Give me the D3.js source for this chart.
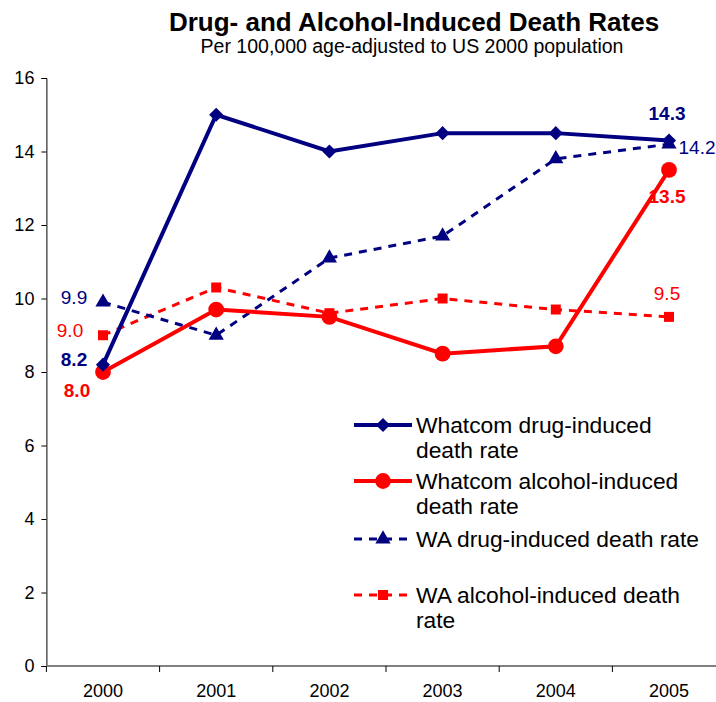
<!DOCTYPE html>
<html>
<head>
<meta charset="utf-8">
<script src="https://cdn.jsdelivr.net/npm/d3@7"></script>
<style>
  body { margin: 0; background: #fff; }
  svg { display: block; font-family: Arial, "Liberation Sans", sans-serif; }
</style>
</head>
<body>
<svg id="chart" width="716" height="702"></svg>
<script>
// Years on the x axis
const years = ["2000", "2001", "2002", "2003", "2004", "2005"];
// Rates per 100,000, age-adjusted
const whatcomDrug = [8.2, 15.0, 14.0, 14.5, 14.5, 14.3];
const whatcomAlcohol = [8.0, 9.7, 9.5, 8.5, 8.7, 13.5];
const waDrug = [9.9, 9.0, 11.1, 11.7, 13.8, 14.2];
const waAlcohol = [9.0, 10.3, 9.6, 10.0, 9.7, 9.5];
const yTicks = [0, 2, 4, 6, 8, 10, 12, 14, 16];

const svg = d3.select("#chart");
const left = 46.4, bandW = 113.2;
const x = d3.scaleBand().domain(years).range([left, left + bandW * years.length]);
const y = d3.scaleLinear().domain([0, 16]).range([666, 78]);
const cx = d => x(d) + x.bandwidth() / 2;

// Titles
svg.append("text").attr("x", 414).attr("y", 31).attr("text-anchor", "middle")
  .attr("font-size", 26).attr("font-weight", "bold").text("Drug- and Alcohol-Induced Death Rates");
svg.append("text").attr("x", 412).attr("y", 53).attr("text-anchor", "middle")
  .attr("font-size", 19.5).text("Per 100,000 age-adjusted to US 2000 population");

// Y axis
const yAxis = svg.append("g").attr("transform", `translate(${left},0)`)
  .call(d3.axisLeft(y).tickValues(yTicks).tickSize(5).tickPadding(7));
yAxis.select(".domain").attr("stroke", "#000").attr("stroke-width", 1);
yAxis.selectAll(".tick line").attr("stroke", "#000");
yAxis.selectAll("text").attr("font-size", 18).attr("fill", "#000")
  .attr("font-family", "Arial, 'Liberation Sans', sans-serif");

// X axis with ticks between categories
const xAxis = svg.append("g").attr("transform", `translate(0,${y(0)})`);
xAxis.append("line").attr("x1", left).attr("x2", left + bandW * years.length)
  .attr("stroke", "#808080").attr("stroke-width", 2);
xAxis.selectAll("line.tick").data(d3.range(years.length + 1)).join("line")
  .attr("class", "tick")
  .attr("x1", i => left + i * bandW).attr("x2", i => left + i * bandW)
  .attr("y1", 0).attr("y2", 6).attr("stroke", "#000").attr("stroke-width", 1);
xAxis.selectAll("text").data(years).join("text")
  .attr("x", d => cx(d)).attr("y", 31).attr("text-anchor", "middle")
  .attr("font-size", 18).text(d => d);

const navy = "#000080", red = "#ff0000";
const dash = "8,7";
const series = [
  { values: waAlcohol, color: red, width: 3, dash: dash, marker: "square" },
  { values: waDrug, color: navy, width: 3, dash: dash, marker: "triangle" },
  { values: whatcomAlcohol, color: red, width: 4, dash: null, marker: "circle" },
  { values: whatcomDrug, color: navy, width: 4, dash: null, marker: "diamond" }
];
const markerPath = {
  square: d3.symbol(d3.symbolSquare, 100)(),
  triangle: d3.symbol(d3.symbolTriangle, 100)(),
  circle: d3.symbol(d3.symbolCircle, 195)(),
  diamond: d3.symbol(d3.symbolSquare, 100)()
};
const markerRotate = { diamond: 45 };

const line = d3.line().x((v, i) => cx(years[i])).y(v => y(v));
series.forEach(s => {
  svg.append("path").datum(s.values).attr("d", line)
    .attr("fill", "none").attr("stroke", s.color).attr("stroke-width", s.width)
    .attr("stroke-dasharray", s.dash);
  svg.append("g").selectAll("path").data(s.values).join("path")
    .attr("d", markerPath[s.marker])
    .attr("transform", (v, i) => `translate(${cx(years[i])},${y(v)}) rotate(${markerRotate[s.marker] || 0})`)
    .attr("fill", s.color);
});

// Value labels at the first and last years (offsets are to the text baseline)
const labels = [
  { v: whatcomDrug[0], yr: 0, dx: -29, dy: 1.5, color: navy, bold: true },
  { v: whatcomAlcohol[0], yr: 0, dx: -26, dy: 25, color: red, bold: true },
  { v: waDrug[0], yr: 0, dx: -29, dy: 2, color: navy, bold: false },
  { v: waAlcohol[0], yr: 0, dx: -33, dy: 2, color: red, bold: false },
  { v: whatcomDrug[5], yr: 5, dx: -2, dy: -20, color: navy, bold: true },
  { v: waDrug[5], yr: 5, dx: 28, dy: 10, color: navy, bold: false },
  { v: whatcomAlcohol[5], yr: 5, dx: -2, dy: 33, color: red, bold: true },
  { v: waAlcohol[5], yr: 5, dx: -2, dy: -17, color: red, bold: false }
];
labels.forEach(l => {
  svg.append("text").attr("x", cx(years[l.yr]) + l.dx).attr("y", y(l.v) + l.dy)
    .attr("text-anchor", "middle").attr("font-size", 19)
    .attr("font-weight", l.bold ? "bold" : "normal").attr("fill", l.color)
    .text(l.v.toFixed(1));
});

// Legend
const legend = [
  { lines: ["Whatcom drug-induced", "death rate"], color: navy, width: 4, dash: null, marker: "diamond", y: 425 },
  { lines: ["Whatcom alcohol-induced", "death rate"], color: red, width: 4, dash: null, marker: "circle", y: 481 },
  { lines: ["WA drug-induced death rate"], color: navy, width: 3, dash: dash, marker: "triangle", y: 539 },
  { lines: ["WA alcohol-induced death", "rate"], color: red, width: 3, dash: dash, marker: "square", y: 595 }
];
const lg = svg.append("g");
legend.forEach(e => {
  lg.append("line").attr("x1", 354).attr("x2", 412).attr("y1", e.y).attr("y2", e.y)
    .attr("stroke", e.color).attr("stroke-width", e.width).attr("stroke-dasharray", e.dash);
  lg.append("path").attr("d", markerPath[e.marker])
    .attr("transform", `translate(383,${e.y}) rotate(${markerRotate[e.marker] || 0})`).attr("fill", e.color);
  e.lines.forEach((t, j) => {
    lg.append("text").attr("x", 416).attr("y", e.y + 8 + j * 24.5).attr("font-size", 22.8).text(t);
  });
});
</script>
</body>
</html>
